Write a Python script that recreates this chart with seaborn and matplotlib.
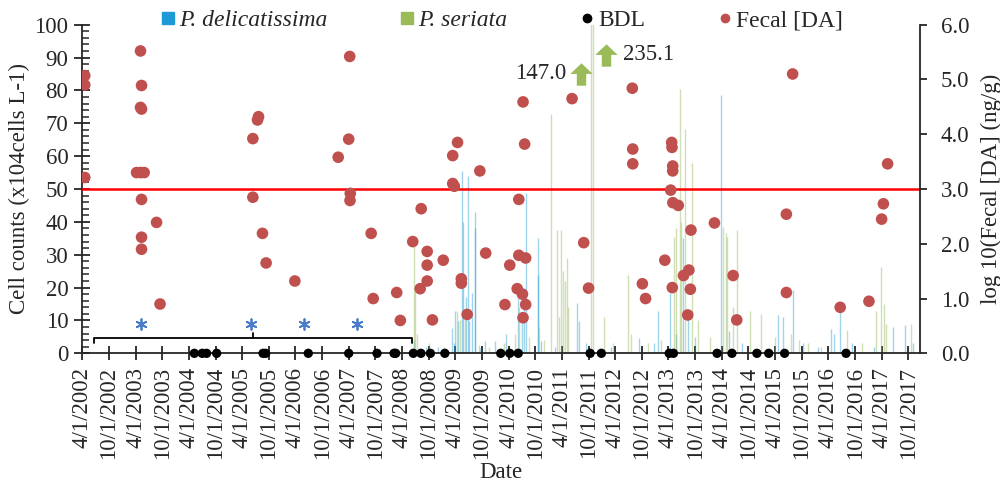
import pandas as pd
import matplotlib
matplotlib.use('Agg')
import matplotlib.pyplot as plt
import matplotlib.dates as mdates
from matplotlib.ticker import MultipleLocator, FuncFormatter
from matplotlib.path import Path
from matplotlib.lines import Line2D
import seaborn as sns

# P. delicatissima cell counts (x10^4 cells/L)
delic_dates = ['2008-06-20', '2008-09-10', '2008-12-01', '2009-03-08', '2009-03-20', '2009-04-02',
               '2009-04-18', '2009-05-18', '2009-05-26', '2009-06-10', '2009-06-28', '2009-07-03',
               '2009-07-22', '2009-08-12', '2009-08-16', '2009-09-20', '2009-10-20', '2009-12-30',
               '2010-03-17', '2010-06-06', '2010-07-05', '2010-07-16', '2010-07-27', '2010-10-18',
               '2010-10-22', '2010-11-10', '2011-02-10', '2011-07-12', '2011-07-30', '2011-09-15',
               '2012-03-01', '2012-09-10', '2012-12-20', '2013-01-18', '2013-04-08', '2013-05-20',
               '2013-07-08', '2013-08-10', '2013-10-01', '2014-03-25', '2014-05-20', '2014-08-15',
               '2015-04-22', '2015-05-26', '2015-07-31', '2015-10-10', '2016-01-20', '2016-04-20',
               '2016-05-10', '2016-06-21', '2016-09-10', '2017-02-10', '2017-06-20', '2017-09-05',
               '2017-11-01']
delic_counts = [4, 2, 2, 7.6, 3, 13,
                9.8, 55.6, 40, 17, 54, 9.8,
                18.3, 43, 38, 1.5, 3.6, 3.6,
                6, 16.7, 11.6, 20, 48.9, 35,
                23.8, 3.6, 2, 15.2, 9.8, 3,
                2, 4.6, 3, 13, 18.3, 6,
                35, 12, 5, 78.6, 6.8, 3,
                11.7, 11, 19.3, 3, 2, 7.3,
                6, 14, 3, 2, 8, 8.5,
                3]

# P. seriata cell counts (x10^4 cells/L)
seri_dates = ['2008-06-20', '2008-06-28', '2008-07-10', '2008-10-01', '2009-01-15', '2009-04-10',
              '2009-05-01', '2009-06-05', '2009-09-08', '2009-11-20', '2010-03-01', '2010-05-15',
              '2010-06-12', '2010-08-20', '2010-10-26', '2010-12-01', '2011-01-19', '2011-02-24',
              '2011-03-10', '2011-03-28', '2011-04-06', '2011-04-22', '2011-05-04', '2011-05-10',
              '2011-10-20', '2011-11-03', '2012-01-18', '2012-03-20', '2012-06-28', '2012-07-20',
              '2012-11-10', '2013-02-10', '2013-05-12', '2013-05-20', '2013-06-18', '2013-06-28',
              '2013-07-25', '2013-09-12', '2013-10-20', '2014-01-10', '2014-04-08', '2014-04-30',
              '2014-05-10', '2014-06-20', '2014-07-13', '2014-10-12', '2014-12-28', '2015-04-01',
              '2015-07-20', '2015-09-10', '2015-11-15', '2016-02-10', '2016-08-08', '2016-11-15',
              '2017-02-24', '2017-03-30', '2017-04-15', '2017-05-01', '2017-10-20']
seri_counts = [34, 19, 6, 3, 2, 13,
               10, 12, 2.5, 2, 3, 6,
               14, 5, 8, 4, 72.7, 37.5,
               11, 37.5, 25, 22, 28.9, 14,
               147.0, 235.1, 11.2, 3, 23.8, 6,
               3, 4, 35.5, 38, 80.4, 40,
               68.2, 57.8, 10, 5, 38.5, 36.5,
               35.5, 14, 37.5, 13, 12, 5,
               6, 4, 3, 2, 7, 3,
               13, 26.4, 15, 9, 9]

# samples below detection limit
bdl_dates = ['2004-05-08', '2004-07-01', '2004-07-31', '2004-10-08', '2005-08-22', '2005-09-09',
             '2006-06-28', '2007-04-01', '2007-10-12', '2008-02-06', '2008-02-17', '2008-06-17',
             '2008-08-08', '2008-10-12', '2009-01-19', '2010-02-06', '2010-04-09', '2010-06-06',
             '2011-10-12', '2011-12-28', '2013-04-06', '2013-05-05', '2014-02-28', '2014-06-10',
             '2014-11-28', '2015-02-17', '2015-06-06', '2016-07-31']

# log10 fecal DA (ng/g)
fecal_dates = ['2002-04-18', '2002-04-18', '2002-04-18',
               '2003-04-08', '2003-05-06', '2003-05-30', '2003-05-05', '2003-05-12', '2003-05-05',
               '2003-05-12', '2003-05-12', '2003-05-12', '2003-05-12', '2003-08-23', '2003-09-16',
               '2005-07-15', '2005-07-22', '2005-06-13', '2005-06-13', '2005-08-18', '2005-09-12',
               '2006-03-28',
               '2007-04-08', '2007-04-01', '2007-01-19', '2007-04-12', '2007-04-10', '2007-09-02',
               '2007-09-16',
               '2008-02-24', '2008-03-20', '2008-06-13', '2008-08-10', '2008-08-03', '2008-09-20',
               '2008-09-20', '2008-09-20', '2008-10-26',
               '2009-01-08', '2009-04-16', '2009-03-14', '2009-03-14', '2009-03-25', '2009-09-16',
               '2009-10-26', '2009-05-12', '2009-05-12', '2009-06-21',
               '2010-03-07', '2010-04-09', '2010-05-30', '2010-06-10', '2010-06-10', '2010-07-05',
               '2010-07-09', '2010-07-09', '2010-07-20', '2010-07-27', '2010-07-27',
               '2011-06-10', '2011-08-29', '2011-10-01',
               '2012-07-27', '2012-07-30', '2012-07-30', '2012-10-04', '2012-10-26',
               '2013-04-23', '2013-04-25', '2013-04-30', '2013-04-30', '2013-04-16', '2013-05-01',
               '2013-06-07', '2013-03-07', '2013-04-27', '2013-09-02', '2013-07-13', '2013-08-19',
               '2013-08-29', '2013-08-11',
               '2014-02-10', '2014-06-18', '2014-07-13',
               '2015-07-31', '2015-06-18', '2015-06-18',
               '2016-06-21', '2017-01-04', '2017-05-12', '2017-04-13', '2017-04-01']
fecal_da = [5.07, 4.90, 3.21,
            3.30, 3.30, 3.30, 5.52, 4.89, 4.49,
            4.46, 2.81, 2.12, 1.90, 2.39, 0.90,
            4.26, 4.32, 3.92, 2.85, 2.19, 1.65,
            1.32,
            5.42, 3.91, 3.58, 2.92, 2.79, 2.19,
            1.00,
            1.11, 0.60, 2.04, 2.64, 1.18, 1.86,
            1.61, 1.32, 0.61,
            1.70, 3.85, 3.61, 3.10, 3.05, 3.33,
            1.83, 1.36, 1.28, 0.71,
            0.89, 1.61, 1.18, 2.81, 1.79, 1.08,
            4.59, 0.65, 3.82, 1.74, 0.89,
            4.65, 2.02, 1.19,
            4.84, 3.73, 3.46, 1.27, 1.00,
            3.85, 3.76, 3.42, 3.33, 2.98, 2.75,
            2.70, 1.70, 1.20, 2.25, 1.42, 1.52,
            1.17, 0.70,
            2.38, 1.42, 0.61,
            5.10, 2.54, 1.11,
            0.84, 0.95, 3.46, 2.73, 2.45]

da_threshold = 3.0
star_dates = ['2003-05-08', '2005-05-30', '2006-05-30', '2007-05-30']
bracket_dates = ['2002-06-20', '2005-06-15', '2008-06-10']
off_scale_labels = ['147.0', '235.1']
off_scale_arrow_dates = ['2011-08-12', '2012-01-30']

blue = '#1E9AD6'
green = '#9BBB59'
red = '#C0504D'
fs = 16.5

sns.set_style('ticks')
plt.rcParams['font.family'] = ['Liberation Serif', 'DejaVu Serif']

fig, ax = plt.subplots(figsize=(10, 4.83), dpi=100)
fig.subplots_adjust(left=0.0823, right=0.92, bottom=0.2685, top=0.9489)

# thin daily bars
ax.vlines(pd.to_datetime(delic_dates), 0, delic_counts, colors=blue, lw=1.0, alpha=0.42, zorder=2)
ax.vlines(pd.to_datetime(seri_dates), 0, seri_counts, colors=green, lw=1.0, alpha=0.45, zorder=2)

# BDL on the zero line
bdl = pd.DataFrame({'date': pd.to_datetime(bdl_dates), 'y': 0.0})
sns.scatterplot(data=bdl, x='date', y='y', ax=ax, color='black', s=45, edgecolor='none',
                clip_on=False, zorder=6, legend=False)

# stars and bracket
sd = pd.to_datetime(star_dates)
ax.scatter(sd, [9] * len(sd), marker=(6, 2, 0), s=60, color='#4A7CC9', lw=1.3, zorder=4)
bd = pd.to_datetime(bracket_dates)
ax.plot([bd[0], bd[0], bd[2], bd[2]], [3.2, 4.6, 4.6, 3.2], color='black', lw=1.3, zorder=3)
ax.plot([bd[1], bd[1]], [4.6, 6.2], color='black', lw=1.3, zorder=3)

# arrows for off-scale bars
arrow = Path([(-1, 0.05), (0, 1), (1, 0.05), (0.42, 0.05), (0.42, -1), (-0.42, -1), (-0.42, 0.05), (-1, 0.05)])
ad = pd.to_datetime(off_scale_arrow_dates)
ax.scatter(ad, [85, 90.8], marker=arrow, s=260, color=green, lw=0, zorder=5)
ax.text(ad[0] - pd.Timedelta(days=100), 85, off_scale_labels[0], ha='right', va='center', fontsize=fs)
ax.text(ad[1] + pd.Timedelta(days=112), 90.8, off_scale_labels[1], ha='left', va='center', fontsize=fs)

ax.set_ylim(0, 100)
ax.set_yticks(range(0, 101, 10))
ax.yaxis.set_minor_locator(MultipleLocator(2))
ax.set_xlim(pd.Timestamp('2002-04-01'), pd.Timestamp('2017-12-20'))
ticks = pd.date_range('2002-04-01', '2017-10-01', freq='6MS')
ax.set_xticks(ticks)
ax.xaxis.set_major_formatter(FuncFormatter(
    lambda v, p: '{d.month}/{d.day}/{d.year}'.format(d=mdates.num2date(v))))
ax.tick_params(axis='x', direction='inout', length=10, width=1.3, labelsize=fs, rotation=90, pad=5)
ax.tick_params(axis='y', which='major', direction='inout', length=11, width=1.3, labelsize=fs, pad=4.5)
ax.tick_params(axis='y', which='minor', direction='in', length=5, width=1.1)
ax.set_ylabel('Cell counts (x104cells L-1)', fontsize=fs, labelpad=3)
ax.set_xlabel('Date', fontsize=fs, labelpad=2)
for s in ['left', 'bottom']:
    ax.spines[s].set_linewidth(1.3)
ax.spines['top'].set_visible(False)
ax.spines['right'].set_visible(False)

# right axis: fecal DA
ax2 = ax.twinx()
ax2.axhline(da_threshold, color='#FF0000', lw=1.8, zorder=1)
fec = pd.DataFrame({'date': pd.to_datetime(fecal_dates), 'da': fecal_da})
sns.scatterplot(data=fec, x='date', y='da', ax=ax2, color=red, s=70, edgecolor='none',
                zorder=4, legend=False)
ax2.set_ylim(0, 6)
ax2.set_yticks([0, 1, 2, 3, 4, 5, 6])
ax2.yaxis.set_major_formatter(FuncFormatter(lambda v, p: '%.1f' % v))
ax2.tick_params(axis='y', direction='out', length=5, width=1.3, labelsize=fs, pad=10)
ax2.set_ylabel('log 10(Fecal [DA] (ng/g)', fontsize=fs, labelpad=8)
ax2.set_xlabel('')
for s in ['top', 'left', 'bottom']:
    ax2.spines[s].set_visible(False)
ax2.spines['right'].set_visible(True)
ax2.spines['right'].set_linewidth(1.3)

handles = [Line2D([], [], marker='s', ls='none', color=blue, markersize=8),
           Line2D([], [], marker='s', ls='none', color=green, markersize=8),
           Line2D([], [], marker='o', ls='none', color='black', markersize=6),
           Line2D([], [], marker='o', ls='none', color=red, markersize=6)]
leg = fig.legend(handles, ['P. delicatissima', 'P. seriata', 'BDL', 'Fecal [DA]'],
                 loc='center', bbox_to_anchor=(0.502, 0.958), ncol=4, frameon=False,
                 fontsize=17, handlelength=0.6, handletextpad=0.15, columnspacing=3.1)
leg.get_texts()[0].set_style('italic')
leg.get_texts()[1].set_style('italic')

fig.savefig('out.png', dpi=100)
